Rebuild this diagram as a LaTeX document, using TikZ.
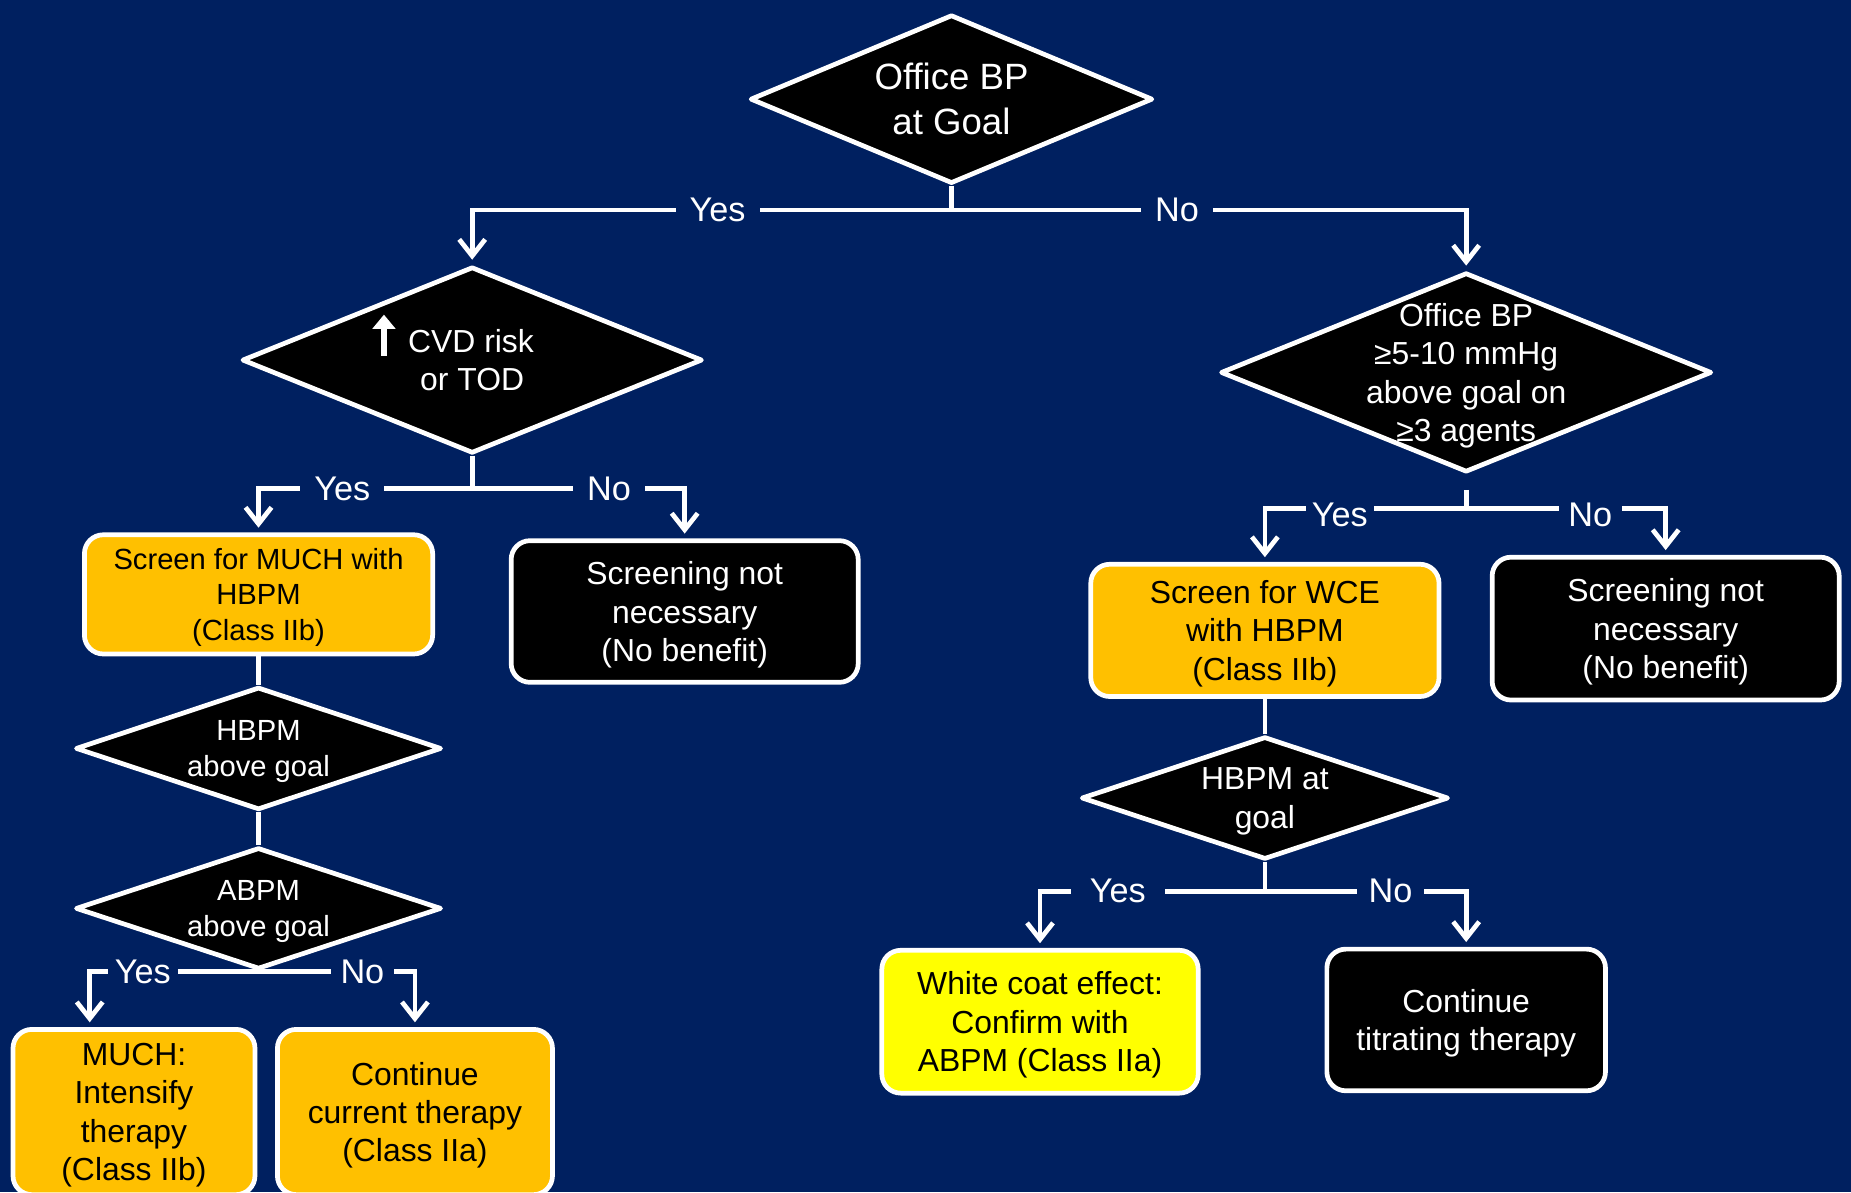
\documentclass[tikz,border=0pt]{standalone}
\usepackage{fontspec}
\setsansfont{Liberation Sans}
\usepackage{tikz}
\usetikzlibrary{arrows.meta,positioning,shapes.geometric}
\definecolor{bgblue}{HTML}{002060}
\definecolor{amber}{HTML}{FFC000}
\definecolor{brightyellow}{HTML}{FFFF00}

\newcommand{\riskarrow}{\raisebox{0pt}[0pt][0pt]{\tikz[baseline=0pt]\draw[draw=white, line width=5pt, -{Triangle[length=12pt,width=19pt]}] (0pt,-3pt) -- (0pt,32pt);}}

\begin{document}
\begin{tikzpicture}[
    x=1pt, y=-1pt,
    node distance=200pt,
    >={Straight Barb[length=14pt,width=22pt]},
    font=\sffamily,
    decision/.style={
		diamond,
		shape aspect=2.5,
		draw=white,
		fill=black,
		line width=4pt,
		line join=round,
		text=white,
		inner sep=-30pt,
		text depth=-2pt,
		align=center,
		font=\sffamily\fontsize{27}{32.5}\selectfont
	},
    outcome/.style={
		rectangle,
		rounded corners=16pt,
		draw=white,
		line width=4pt,
		inner sep=0pt,
		text depth=-2pt,
		align=center,
		font=\sffamily\fontsize{27}{32.5}\selectfont
	},
    amberbox/.style={outcome, fill=amber, text=black},
    darkbox/.style={outcome, fill=black, text=white},
    yellowbox/.style={outcome, fill=brightyellow, text=black},
    flow/.style={draw=white, line width=4pt},
    answer/.style={
		fill=bgblue,
		text=white,
		inner xsep=12pt,
		inner ysep=2pt,
		font=\sffamily\fontsize{29}{34}\selectfont
	}
  ]
  \useasboundingbox (0,0) rectangle (1568,1010);
  \clip (0,0) rectangle (1568,1010);
  \fill [bgblue] (0,0) rectangle (1568,1010);

    % We start by placing the decisions and outcomes

  \node [decision, minimum width=341pt, minimum height=143pt,
         font=\sffamily\fontsize{31}{38}\selectfont] (goal) at (806,84)
 {Office BP\\at Goal};

  \node [decision, below of=goal, xshift=-406pt, yshift=-21pt,
         minimum width=390pt, minimum height=158pt] (cvdrisk)
 {\riskarrow\hspace{11pt}CVD risk\kern32pt\\or TOD};

  \node [decision, below of=goal, xshift=436pt, yshift=-31.5pt,
         minimum width=416pt, minimum height=169pt] (resistant)
 {Office BP\\≥5-10 mmHg\\above goal on\\≥3 agents};

  \node [amberbox, below of=cvdrisk, xshift=-181pt, yshift=1.5pt,
         minimum width=295pt, minimum height=101pt,
         font=\sffamily\fontsize{24.7}{30}\selectfont] (screenmuch)
 {Screen for MUCH with\\HBPM\\(Class IIb)};

  \node [darkbox, below of=cvdrisk, xshift=180pt, yshift=-13pt,
         minimum width=294pt, minimum height=120pt] (noscreenleft)
 {Screening not\\necessary\\(No benefit)};

  \node [decision, below of=screenmuch, yshift=69.5pt,
         minimum width=310pt, minimum height=104pt,
         font=\sffamily\fontsize{24.7}{30}\selectfont] (hbpmabove)
 {HBPM\\above goal};

  \node [decision, below of=hbpmabove, yshift=64.5pt,
         minimum width=310pt, minimum height=103pt,
         font=\sffamily\fontsize{24.7}{30}\selectfont] (abpmabove)
 {ABPM\\above goal};

  \node [amberbox, below of=abpmabove, xshift=-105.5pt, yshift=27.5pt,
         minimum width=205pt, minimum height=140pt] (much)
 {MUCH:\\Intensify\\therapy\\(Class IIb)};

  \node [amberbox, below of=abpmabove, xshift=132.5pt, yshift=27.5pt,
         minimum width=233pt, minimum height=140pt] (continuecurrent)
 {Continue\\current therapy\\(Class IIa)};

  \node [amberbox, below of=resistant, xshift=-170.5pt, yshift=-18.5pt,
         minimum width=295pt, minimum height=112pt] (screenwce)
 {Screen for WCE\\with HBPM\\(Class IIb)};

  \node [darkbox, below of=resistant, xshift=169pt, yshift=-17pt,
         minimum width=294pt, minimum height=121pt] (noscreenright)
 {Screening not\\necessary\\(No benefit)};

  \node [decision, below of=screenwce, yshift=58pt,
         minimum width=311pt, minimum height=104pt] (hbpmgoal)
 {HBPM at\\goal};

  \node [yellowbox, below of=hbpmgoal, xshift=-190.5pt, yshift=10.5pt,
         minimum width=268pt, minimum height=121pt] (whitecoat)
 {White coat effect:\\Confirm with\\ABPM (Class IIa)};

  \node [darkbox, below of=hbpmgoal, xshift=170.5pt, yshift=12pt,
         minimum width=236pt, minimum height=120pt] (titrate)
 {Continue\\titrating therapy};

    % Now the connectors

  \coordinate (splitgoal) at (goal.south |- 0,178);
  \draw [flow] (goal.south) -- (splitgoal);
  \draw [flow, ->, shorten >=4pt] (splitgoal) -| node [answer, pos=0.244] {Yes} (cvdrisk.north);
  \draw [flow, ->, shorten >=4pt] (splitgoal) -| node [answer, pos=0.219] {No} (resistant.north);

  \coordinate (splitcvd) at (cvdrisk.south |- 0,414);
  \draw [flow] (cvdrisk.south) -- (splitcvd);
  \draw [flow, ->, shorten >=4pt] (splitcvd) -| node [answer, pos=0.304] {Yes} (screenmuch.north);
  \draw [flow, ->, shorten >=4pt] (splitcvd) -| node [answer, pos=0.322] {No} (noscreenleft.north);

  \draw [flow] (screenmuch) -- (hbpmabove);
  \draw [flow] (hbpmabove) -- (abpmabove);
  \draw [flow, ->, shorten >=4pt] (abpmabove.south) -| node [answer, pos=0.343, inner xsep=6pt] {Yes} ([xshift=-37.5pt]much.north);
  \draw [flow, ->, shorten >=4pt] (abpmabove.south) -| node [answer, pos=0.332, inner xsep=8pt] {No} (continuecurrent.north);

  \coordinate (splitresistant) at (resistant.south |- 0,431);
  \draw [flow] ([yshift=-13pt]resistant.south) -- (splitresistant);
  \draw [flow, ->, shorten >=4pt] (splitresistant) -| node [answer, pos=0.314, inner xsep=5pt, yshift=-5pt] {Yes} (screenwce.north);
  \draw [flow, ->, shorten >=4pt] (splitresistant) -| node [answer, pos=0.311, inner xsep=8pt, yshift=-5pt] {No} (noscreenright.north);

  \draw [flow] (screenwce) -- (hbpmgoal);
  \coordinate (splithbpm) at (hbpmgoal.south |- 0,755);
  \draw [flow] (hbpmgoal.south) -- (splithbpm);
  \draw [flow, ->, shorten >=4pt] (splithbpm) -| node [answer, pos=0.327, inner xsep=16pt] {Yes} (whitecoat.north);
  \draw [flow, ->, shorten >=4pt] (splithbpm) -| node [answer, pos=0.312, inner xsep=10pt] {No} (titrate.north);

\end{tikzpicture}
\end{document}
